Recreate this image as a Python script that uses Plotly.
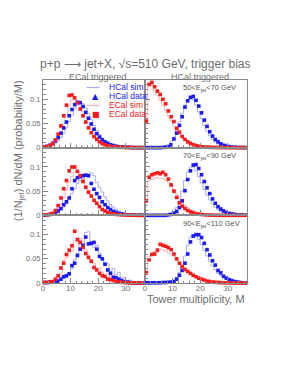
import plotly.graph_objects as go
from plotly.subplots import make_subplots

# ---------------- data (tower multiplicity bins 0..36, probability per M) ----------------
M_BINS = list(range(37))

# ECal triggered, 50<Ejet<70
ECT50_HCAL_SIM = [0.0005,0.001,0.003,0.005,0.009,0.014,0.021,0.030,0.041,0.054,0.067,0.080,0.089,0.095,0.091,0.082,0.070,0.058,0.046,0.036,0.027,0.020,0.015,0.011,0.008,0.006,0.004,0.003,0.002,0.0015,0.001,0.0007,0.0005,0.0003,0.0002,0.0001,0]
ECT50_HCAL_DATA = [0.001,0.003,0.005,0.009,0.014,0.021,0.030,0.041,0.053,0.066,0.079,0.089,0.094,0.093,0.085,0.073,0.061,0.049,0.038,0.029,0.022,0.016,0.012,0.009,0.006,0.0045,0.003,0.002,0.0015,0.001,0.0007,0.0005,0.0003,0.0002,0.0001,0,0]
ECT50_ECAL_SIM = [0.0005,0.001,0.002,0.005,0.010,0.019,0.032,0.049,0.068,0.087,0.099,0.101,0.096,0.086,0.074,0.061,0.049,0.038,0.029,0.021,0.015,0.011,0.008,0.006,0.004,0.003,0.002,0.0015,0.001,0.0007,0.0005,0.0003,0.0002,0.0001,0.0001,0,0]
ECT50_ECAL_DATA = [0.001,0.002,0.004,0.008,0.016,0.028,0.045,0.066,0.088,0.108,0.109,0.103,0.093,0.080,0.066,0.053,0.041,0.031,0.023,0.017,0.012,0.008,0.006,0.004,0.003,0.002,0.0015,0.001,0.0008,0.0005,0.0004,0.0003,0.0002,0.0001,0.0001,0,0]

# HCal triggered, 50<Ejet<70
HCT50_HCAL_SIM = [0,0,0,0,0,0,0.001,0.003,0.006,0.012,0.022,0.036,0.053,0.071,0.088,0.099,0.103,0.099,0.088,0.074,0.060,0.046,0.034,0.025,0.017,0.012,0.008,0.005,0.003,0.002,0.001,0.0007,0.0004,0.0002,0.0001,0,0]
HCT50_HCAL_DATA = [0,0,0,0,0,0,0.0005,0.001,0.002,0.006,0.018,0.030,0.046,0.064,0.084,0.097,0.104,0.106,0.098,0.086,0.072,0.057,0.044,0.033,0.024,0.017,0.012,0.008,0.005,0.0035,0.0022,0.0014,0.0009,0.0005,0.0003,0.0002,0.0001]
HCT50_ECAL_SIM = [0.060,0.128,0.130,0.118,0.108,0.098,0.088,0.078,0.066,0.055,0.045,0.036,0.028,0.021,0.016,0.012,0.009,0.006,0.0045,0.003,0.002,0.0015,0.001,0.0007,0.0005,0.0003,0.0002,0.0001,0.0001,0,0,0,0,0,0,0,0]
HCT50_ECAL_DATA = [0.055,0.131,0.135,0.126,0.117,0.110,0.100,0.091,0.076,0.064,0.054,0.040,0.032,0.023,0.017,0.012,0.009,0.006,0.0045,0.003,0.002,0.0015,0.001,0.0008,0.0006,0.0004,0.0003,0.0002,0.0002,0.0001,0.0001,0,0,0,0,0,0]

# ECal triggered, 70<Ejet<90
ECT70_HCAL_SIM = [0.0005,0.001,0.001,0.002,0.004,0.007,0.011,0.017,0.025,0.034,0.045,0.055,0.066,0.072,0.075,0.086,0.080,0.088,0.082,0.068,0.058,0.048,0.038,0.030,0.022,0.017,0.012,0.009,0.006,0.004,0.003,0.002,0.0012,0.0008,0.0005,0.0002,0.0001]
ECT70_HCAL_DATA = [0.0005,0.001,0.002,0.003,0.005,0.009,0.014,0.022,0.028,0.036,0.055,0.072,0.078,0.080,0.082,0.083,0.082,0.066,0.054,0.045,0.037,0.028,0.022,0.016,0.012,0.008,0.006,0.004,0.003,0.002,0.001,0.0007,0.0005,0.0003,0.0002,0.0001,0]
ECT70_ECAL_SIM = [0.0005,0.001,0.002,0.004,0.008,0.014,0.023,0.036,0.052,0.068,0.080,0.090,0.089,0.083,0.075,0.062,0.052,0.042,0.033,0.026,0.019,0.014,0.010,0.008,0.006,0.004,0.003,0.002,0.0015,0.001,0.0007,0.0005,0.0003,0.0002,0.0001,0,0]
ECT70_ECAL_DATA = [0.001,0.001,0.002,0.004,0.010,0.020,0.036,0.055,0.072,0.092,0.100,0.100,0.091,0.082,0.070,0.058,0.048,0.040,0.031,0.025,0.018,0.012,0.009,0.006,0.004,0.003,0.002,0.0015,0.001,0.0007,0.0005,0.0003,0.0002,0.0001,0.0001,0,0]

# HCal triggered, 70<Ejet<90
HCT70_HCAL_SIM = [0,0,0,0,0,0,0,0.001,0.002,0.004,0.008,0.016,0.030,0.050,0.072,0.090,0.100,0.100,0.092,0.080,0.067,0.054,0.042,0.032,0.024,0.017,0.012,0.008,0.006,0.004,0.003,0.002,0.001,0.0006,0.0003,0.0002,0.0001]
HCT70_HCAL_DATA = [0,0,0,0,0,0,0,0,0.001,0.002,0.004,0.008,0.016,0.030,0.051,0.074,0.092,0.104,0.105,0.097,0.084,0.070,0.057,0.045,0.034,0.025,0.018,0.013,0.009,0.006,0.004,0.003,0.002,0.0012,0.0008,0.0005,0.0003]
HCT70_ECAL_SIM = [0.032,0.072,0.074,0.076,0.078,0.077,0.076,0.073,0.068,0.061,0.053,0.044,0.035,0.027,0.021,0.016,0.012,0.009,0.006,0.0045,0.003,0.002,0.0015,0.001,0.0006,0.0004,0.0002,0.0001,0,0,0,0,0,0,0,0,0]
HCT70_ECAL_DATA = [0.030,0.079,0.084,0.086,0.088,0.086,0.089,0.084,0.075,0.063,0.050,0.037,0.026,0.019,0.014,0.010,0.007,0.005,0.0035,0.0025,0.0018,0.0012,0.0008,0.0005,0.0003,0.0002,0.0001,0.0001,0,0,0,0,0,0,0,0,0]

# ECal triggered, 90<Ejet<110
ECT90_HCAL_SIM = [0,0.001,0.001,0.002,0.003,0.005,0.007,0.010,0.012,0.022,0.030,0.048,0.060,0.092,0.078,0.104,0.106,0.086,0.074,0.078,0.062,0.052,0.036,0.040,0.024,0.030,0.018,0.022,0.010,0.012,0.004,0.006,0.002,0.001,0,0,0]
ECT90_HCAL_DATA = [0.001,0.001,0.002,0.002,0.003,0.004,0.008,0.013,0.015,0.019,0.036,0.041,0.057,0.070,0.078,0.095,0.081,0.082,0.084,0.070,0.055,0.050,0.039,0.027,0.020,0.012,0.011,0.008,0.005,0.003,0.002,0.001,0.0005,0.0003,0.0002,0.0001,0]
ECT90_ECAL_SIM = [0,0.001,0.002,0.003,0.006,0.012,0.020,0.046,0.052,0.062,0.066,0.088,0.084,0.092,0.066,0.070,0.056,0.046,0.040,0.030,0.032,0.022,0.018,0.020,0.012,0.008,0.006,0.004,0.003,0.002,0.001,0.0005,0,0,0,0,0]
ECT90_ECAL_DATA = [0.001,0.001,0.002,0.003,0.008,0.015,0.031,0.041,0.059,0.068,0.077,0.107,0.090,0.084,0.074,0.061,0.053,0.045,0.032,0.027,0.020,0.015,0.013,0.008,0.007,0.005,0.003,0.002,0.0015,0.001,0.0005,0.0003,0.0002,0.0001,0,0,0]

# HCal triggered, 90<Ejet<110
HCT90_HCAL_SIM = [0,0,0,0,0,0,0,0,0.001,0.002,0.005,0.011,0.022,0.036,0.056,0.078,0.095,0.100,0.098,0.090,0.080,0.068,0.056,0.045,0.035,0.027,0.020,0.015,0.011,0.008,0.005,0.003,0.002,0.001,0.0005,0.0002,0.0001]
HCT90_HCAL_DATA = [0.0005,0.0005,0.0005,0.0005,0.0005,0.0005,0.001,0.001,0.0015,0.002,0.003,0.008,0.016,0.026,0.041,0.060,0.085,0.097,0.100,0.100,0.094,0.082,0.069,0.058,0.046,0.037,0.026,0.021,0.014,0.010,0.007,0.005,0.003,0.002,0.001,0.0005,0.0003]
HCT90_ECAL_SIM = [0.025,0.055,0.062,0.066,0.064,0.070,0.068,0.066,0.062,0.060,0.055,0.048,0.042,0.036,0.030,0.026,0.021,0.017,0.013,0.010,0.008,0.006,0.004,0.003,0.002,0.0015,0.001,0.0006,0.0004,0.0002,0.0001,0,0,0,0,0,0]
HCT90_ECAL_DATA = [0.021,0.048,0.059,0.060,0.068,0.080,0.078,0.076,0.073,0.069,0.060,0.050,0.041,0.034,0.028,0.024,0.020,0.016,0.013,0.010,0.008,0.006,0.004,0.003,0.002,0.0015,0.001,0.0007,0.0005,0.0003,0.0002,0.0001,0,0,0,0,0]

ENERGY_LABELS = ["50&lt;E<sub>jet</sub>&lt;70 GeV", "70&lt;E<sub>jet</sub>&lt;90 GeV", "90&lt;E<sub>jet</sub>&lt;110 GeV"]
COLUMN_TITLES = ["ECal triggered", "HCal triggered"]
X_TICKS = [0, 10, 20, 30]
Y_TICKS = [0, 0.05, 0.1]
Y_TICK_TEXT = ["0", "0.05", "0.1"]

PANELS = [
    (1, 1, ECT50_HCAL_SIM, ECT50_HCAL_DATA, ECT50_ECAL_SIM, ECT50_ECAL_DATA),
    (1, 2, HCT50_HCAL_SIM, HCT50_HCAL_DATA, HCT50_ECAL_SIM, HCT50_ECAL_DATA),
    (2, 1, ECT70_HCAL_SIM, ECT70_HCAL_DATA, ECT70_ECAL_SIM, ECT70_ECAL_DATA),
    (2, 2, HCT70_HCAL_SIM, HCT70_HCAL_DATA, HCT70_ECAL_SIM, HCT70_ECAL_DATA),
    (3, 1, ECT90_HCAL_SIM, ECT90_HCAL_DATA, ECT90_ECAL_SIM, ECT90_ECAL_DATA),
    (3, 2, HCT90_HCAL_SIM, HCT90_HCAL_DATA, HCT90_ECAL_SIM, HCT90_ECAL_DATA),
]

# ---------------- styling ----------------
OFF = 8                      # default page body margin
W, H = 299 - 2 * OFF, 387 - 2 * OFF
PL, PR, PT, PB = 43.3, 247.3, 80, 283.3      # plot box on screen
ML, MT = PL - OFF, PT - OFF
MR, MB = W - (PR - OFF), H - (PB - OFF)
PW, PH = PR - PL, PB - PT
FONT = "Liberation Sans, Arial, sans-serif"
TXT = "#6e6e6e"
AX = "#8a8a8a"
BLUE, RED = "#1a1aff", "#ff1a1a"
LBLUE, LRED = "#a9a9ff", "#ffb0b0"

def px_x(p):
    return (p - PL) / PW

def px_y(p):
    return 1 - (p - PT) / PH

centers = [m + 0.5 for m in M_BINS]

fig = make_subplots(rows=3, cols=2, horizontal_spacing=0, vertical_spacing=0)

for r, c, hsim, hdat, esim, edat in PANELS:
    for y, col in ((hsim, LBLUE), (esim, LRED)):
        fig.add_trace(go.Scatter(x=centers, y=y, mode="lines", line=dict(color=col, width=1, shape="hvh"),
                                 showlegend=False, hoverinfo="skip"), row=r, col=c)
    for y, col in ((hdat, BLUE), (edat, RED)):
        fig.add_trace(go.Scatter(x=centers, y=y, mode="markers",
                                 marker=dict(symbol="square", size=3.6, color=col, line=dict(width=0)),
                                 showlegend=False, cliponaxis=False), row=r, col=c)

for r in (1, 2, 3):
    for c in (1, 2):
        fig.update_xaxes(row=r, col=c, range=[0, 37], showline=True, mirror=True, linecolor=AX, linewidth=1,
                         ticks="inside", ticklen=5, tickcolor=AX, tickwidth=1, tickvals=X_TICKS,
                         minor=dict(ticks="inside", ticklen=2.5, dtick=2, tick0=0, tickcolor=AX),
                         showgrid=False, zeroline=False, showticklabels=(r == 3), ticklabelstandoff=-3,
                         tickfont=dict(size=8, color=TXT, family=FONT))
        fig.update_yaxes(row=r, col=c, range=[0, 0.14], showline=True, mirror=True, linecolor=AX, linewidth=1,
                         ticks="inside", ticklen=5, tickcolor=AX, tickwidth=1, tickvals=Y_TICKS, ticktext=Y_TICK_TEXT,
                         minor=dict(ticks="inside", ticklen=2.5, dtick=0.01, tick0=0, tickcolor=AX),
                         showgrid=False, zeroline=False, showticklabels=(c == 1),
                         tickfont=dict(size=7.5, color=TXT, family=FONT))

ann = []
ann.append(dict(text="p+p <span style='font-family:DejaVu Sans'>\u27f6</span> jet+X, \u221as=510 GeV, trigger bias",
                x=px_x(145.5), y=px_y(64), xanchor="center", yanchor="middle",
                font=dict(size=12, color=TXT, family=FONT)))
for i, t in enumerate(COLUMN_TITLES):
    ann.append(dict(text=t, x=px_x([98, 200][i]), y=px_y(76.5), xanchor="center", yanchor="middle",
                    font=dict(size=9, color=TXT, family=FONT)))
for i, t in enumerate(ENERGY_LABELS):
    ann.append(dict(text=t, x=px_x(181), y=px_y([88, 156.5, 224][i]), xanchor="left", yanchor="middle",
                    font=dict(size=7.5, color="#555555", family=FONT)))
ann.append(dict(text="Tower multiplicity, M", x=px_x(247.5), y=px_y(299), xanchor="right", yanchor="middle",
                font=dict(size=11, color=TXT, family=FONT)))
ann.append(dict(text="(1/N<sub>jet</sub>) dN/dM (probability/M)", x=px_x(19), y=px_y(78), textangle=-90,
                xanchor="center", yanchor="top", font=dict(size=11, color=TXT, family=FONT)))

# manual legend in top-left panel
LEG = [("HCal sim", BLUE, "line", LBLUE), ("HCal data", BLUE, "\u25b2", BLUE),
       ("ECal sim", RED, "line", LRED), ("ECal data", RED, "\u25a0", RED)]
shapes = []
for i, (lab, tcol, sym, scol) in enumerate(LEG):
    yp = [87.5, 96.5, 105.5, 114.5][i]
    ann.append(dict(text=lab, x=px_x(107), y=px_y(yp), xanchor="left", yanchor="middle",
                    font=dict(size=8.5, color=tcol, family=FONT)))
    if sym == "line":
        shapes.append(dict(type="line", xref="paper", yref="paper", x0=px_x(87), x1=px_x(100),
                           y0=px_y(yp), y1=px_y(yp), line=dict(color=scol, width=1.2)))
    else:
        ann.append(dict(text=sym, x=px_x(96), y=px_y(yp), xanchor="center", yanchor="middle",
                        font=dict(size=8, color=scol, family="DejaVu Sans")))

for a in ann:
    a.update(xref="paper", yref="paper", showarrow=False)

fig.update_layout(width=W, height=H, margin=dict(l=ML, r=MR, t=MT, b=MB, pad=0), paper_bgcolor="white",
                  plot_bgcolor="white", showlegend=False, annotations=ann, shapes=shapes,
                  font=dict(family=FONT, color=TXT))

fig.write_html("out.html")
